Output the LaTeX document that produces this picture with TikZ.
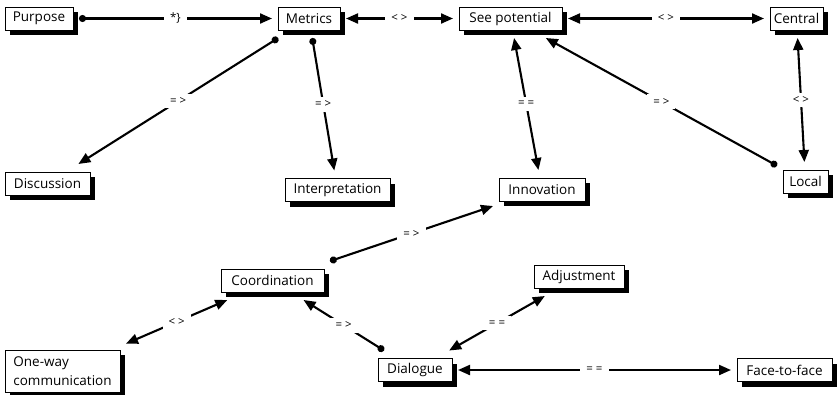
\documentclass[tikz,border=0pt]{standalone}
\usepackage{fontspec}
\setmainfont{Open Sans}
\usetikzlibrary{arrows.meta,shadows}
\tikzset{
  box/.style={draw, line width=0.8pt, fill=white,
    general shadow={fill=black, shadow xshift=5pt, shadow yshift=-5pt},
    minimum height=23pt, inner sep=2pt, outer xsep=6pt, outer ysep=8pt,
    font=\fontsize{13.5}{19}\selectfont},
  conn/.style={line width=2.1pt},
  lbl/.style={fill=white, font=\fontsize{11.5}{13}\selectfont, inner xsep=6pt, inner ysep=4pt},
  both/.style={conn, {Triangle[length=12pt,width=10pt]}-{Triangle[length=12pt,width=10pt]}},
  dotto/.style={conn, {Circle[length=7pt]}-{Triangle[length=12pt,width=10pt]}},
}
\begin{document}
\begin{tikzpicture}[x=1pt,y=-1pt]
\useasboundingbox (0,0) rectangle (837,394);
\node[box, minimum width=68pt] (purpose) at (39,18.5) {Purpose};
\node[box, minimum width=62pt] (metrics) at (309,18.5) {Metrics};
\node[box, minimum width=103pt] (see) at (510.5,18.5) {See potential};
\node[box, minimum width=53pt] (central) at (796.5,18.5) {Central};
\node[box, minimum width=85pt] (discussion) at (47.5,183.5) {Discussion};
\node[box, minimum width=105pt] (interp) at (337.5,190) {Interpretation};
\node[box, minimum width=86pt] (innov) at (542,189.5) {Innovation};
\node[box, minimum width=45pt] (local) at (805.5,181.5) {Local};
\node[box, minimum width=103pt] (coord) at (272.5,280.5) {Coordination};
\node[box, minimum width=115pt, minimum height=42pt, align=left] (oneway) at (62.5,371) {One-way\\communication};
\node[box, minimum width=74pt] (dialogue) at (415,370) {Dialogue};
\node[box, minimum width=90pt] (adjust) at (579,276.5) {Adjustment};
\node[box, minimum width=95pt] (face) at (784.5,370) {Face-to-face};

\draw[dotto] (purpose) -- node[lbl] {*\}} (metrics);
\draw[both] (metrics) -- node[lbl] {< >} (see);
\draw[both] (see) -- node[lbl] {< >} (central);
\draw[dotto] (metrics) -- node[lbl] {= >} (discussion);
\draw[dotto] (metrics) -- node[lbl] {= >} (interp);
\draw[both] (see) -- node[lbl] {= =} (innov);
\draw[dotto] (local) -- node[lbl] {= >} (see);
\draw[both] (central) -- node[lbl] {< >} (local);
\draw[dotto] (coord) -- node[lbl] {= >} (innov);
\draw[both] (coord) -- node[lbl] {< >} (oneway);
\draw[dotto] (dialogue) -- node[lbl] {= >} (coord);
\draw[both] (dialogue) -- node[lbl] {= =} (adjust);
\draw[both] (dialogue) -- node[lbl] {= =} (face);
\end{tikzpicture}
\end{document}
